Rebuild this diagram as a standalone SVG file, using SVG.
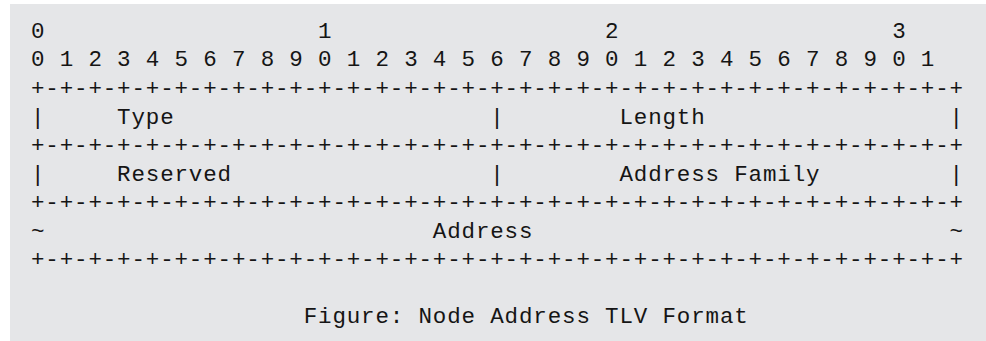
<svg xmlns="http://www.w3.org/2000/svg" width="986" height="341" viewBox="0 0 986 341">
<style>
text{font-family:"Liberation Mono","DejaVu Sans Mono",monospace;font-size:22.5px;letter-spacing:0.85px;fill:#151515;white-space:pre}
</style>
<rect x="0" y="0" width="986" height="341" fill="#ffffff"/>
<rect x="10" y="4" width="976" height="337" fill="#e5e6e8"/>
<g id="ascii" xml:space="preserve">
<text x="31" y="37.5">0                   1                   2                   3</text>
<text x="31" y="66">0 1 2 3 4 5 6 7 8 9 0 1 2 3 4 5 6 7 8 9 0 1 2 3 4 5 6 7 8 9 0 1</text>
<text x="31" y="94.6">+-+-+-+-+-+-+-+-+-+-+-+-+-+-+-+-+-+-+-+-+-+-+-+-+-+-+-+-+-+-+-+-+</text>
<text x="31" y="124">|     Type                      |        Length                 |</text>
<text x="31" y="151.7">+-+-+-+-+-+-+-+-+-+-+-+-+-+-+-+-+-+-+-+-+-+-+-+-+-+-+-+-+-+-+-+-+</text>
<text x="31" y="180.5">|     Reserved                  |        Address Family         |</text>
<text x="31" y="208.8">+-+-+-+-+-+-+-+-+-+-+-+-+-+-+-+-+-+-+-+-+-+-+-+-+-+-+-+-+-+-+-+-+</text>
<text x="31" y="238">~                           Address                             ~</text>
<text x="31" y="266">+-+-+-+-+-+-+-+-+-+-+-+-+-+-+-+-+-+-+-+-+-+-+-+-+-+-+-+-+-+-+-+-+</text>
<text x="31" y="323">                   Figure: Node Address TLV Format</text>
</g>
</svg>
